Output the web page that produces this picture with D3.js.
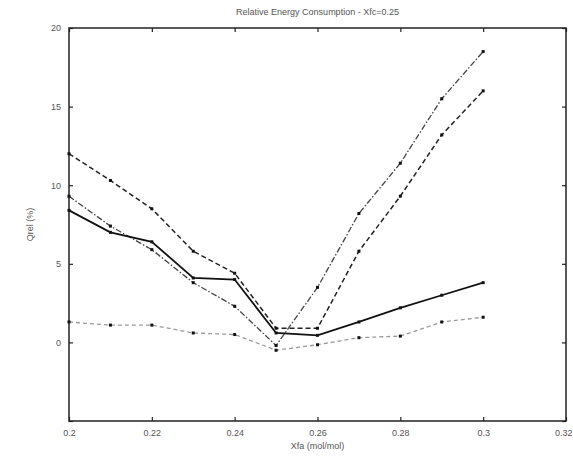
<!DOCTYPE html>
<html>
<head>
<meta charset="utf-8">
<script src="https://cdn.jsdelivr.net/npm/d3@7"></script>
<style>
  body { margin: 0; background: #fff; }
  svg { display: block; font-family: "Liberation Sans", Arial, sans-serif; }
</style>
</head>
<body>
<svg id="chart" width="573" height="458"></svg>
<script>
// データ
const xfa = [0.20, 0.21, 0.22, 0.23, 0.24, 0.25, 0.26, 0.27, 0.28, 0.29, 0.30];
const qrelA = [12.0, 10.3, 8.5, 5.8, 4.4, 0.9, 0.9, 5.8, 9.3, 13.2, 16.0];
const qrelB = [9.3, 7.4, 5.9, 3.8, 2.3, -0.2, 3.5, 8.2, 11.4, 15.5, 18.5];
const qrelC = [8.4, 7.0, 6.4, 4.1, 4.0, 0.6, 0.45, 1.3, 2.2, 3.0, 3.8];
const qrelD = [1.3, 1.1, 1.1, 0.6, 0.5, -0.5, -0.15, 0.3, 0.4, 1.3, 1.6];
const xTicks = [0.2, 0.22, 0.24, 0.26, 0.28, 0.3, 0.32];
const yTicks = [-5, 0, 5, 10, 15, 20];
const yLabels = ["", "0", "5", "10", "15", "20"];

const svg = d3.select("#chart");
const margin = {top: 28, right: 7, bottom: 37, left: 69};
const width = 573, height = 458;

const x = d3.scaleLinear().domain([0.2, 0.32])
  .range([margin.left, width - margin.right]);
const y = d3.scaleLinear().domain([-5, 20])
  .range([height - margin.bottom, margin.top]);

const textColor = "#555";

// 軸 (内向きの目盛り)
const axBottom = svg.append("g")
  .attr("transform", `translate(0,${height - margin.bottom})`)
  .call(d3.axisBottom(x).tickValues(xTicks).tickSizeInner(-4).tickSizeOuter(0)
    .tickPadding(9).tickFormat(d => String(+d.toFixed(2))));
const axTop = svg.append("g")
  .attr("transform", `translate(0,${margin.top})`)
  .call(d3.axisTop(x).tickValues(xTicks).tickSizeInner(-4).tickSizeOuter(0).tickFormat(""));
const axLeft = svg.append("g")
  .attr("transform", `translate(${margin.left},0)`)
  .call(d3.axisLeft(y).tickValues(yTicks).tickSizeInner(-4).tickSizeOuter(0)
    .tickPadding(8).tickFormat((d, i) => yLabels[i]));
const axRight = svg.append("g")
  .attr("transform", `translate(${width - margin.right},0)`)
  .call(d3.axisRight(y).tickValues(yTicks).tickSizeInner(-4).tickSizeOuter(0).tickFormat(""));

[axBottom, axTop, axLeft, axRight].forEach(g => {
  g.select(".domain").remove();
  g.selectAll(".tick line").attr("stroke", "#222").attr("stroke-width", 1.2);
  g.selectAll(".tick text").attr("fill", textColor).attr("font-size", 9);
});

// 右端のラベルは画面内に収める
axBottom.selectAll(".tick text")
  .filter(d => d === 0.32)
  .attr("text-anchor", "end")
  .attr("dx", 6);

// 枠
svg.append("rect")
  .attr("x", margin.left).attr("y", margin.top)
  .attr("width", width - margin.left - margin.right)
  .attr("height", height - margin.top - margin.bottom)
  .attr("fill", "none").attr("stroke", "#222").attr("stroke-width", 1.5);

// 系列
const series = [
  {values: qrelD, color: "#9a9a9a", dash: "4,3", w: 1.3},
  {values: qrelB, color: "#444", dash: "6,2,1.5,2", w: 1.3},
  {values: qrelA, color: "#222", dash: "5,3", w: 1.5},
  {values: qrelC, color: "#111", dash: null, w: 1.8}
];

const line = d3.line().x((d, i) => x(xfa[i])).y(d => y(d));

series.forEach(s => {
  svg.append("path")
    .datum(s.values)
    .attr("d", line)
    .attr("fill", "none")
    .attr("stroke", s.color)
    .attr("stroke-width", s.w)
    .attr("stroke-dasharray", s.dash);
  svg.append("g").selectAll("rect")
    .data(s.values)
    .join("rect")
    .attr("x", (d, i) => x(xfa[i]) - 1.5)
    .attr("y", d => y(d) - 1.5)
    .attr("width", 3).attr("height", 3)
    .attr("fill", "#111");
});

// タイトル・ラベル
svg.append("text")
  .attr("x", (margin.left + width - margin.right) / 2).attr("y", 15)
  .attr("text-anchor", "middle").attr("font-size", 9).attr("fill", textColor)
  .text("Relative Energy Consumption - Xfc=0.25");
svg.append("text")
  .attr("x", (margin.left + width - margin.right) / 2).attr("y", 449)
  .attr("text-anchor", "middle").attr("font-size", 9).attr("fill", textColor)
  .text("Xfa (mol/mol)");
svg.append("text")
  .attr("transform", `translate(33,${(margin.top + height - margin.bottom) / 2}) rotate(-90)`)
  .attr("text-anchor", "middle").attr("font-size", 9).attr("fill", textColor)
  .text("Qrel (%)");
</script>
</body>
</html>
